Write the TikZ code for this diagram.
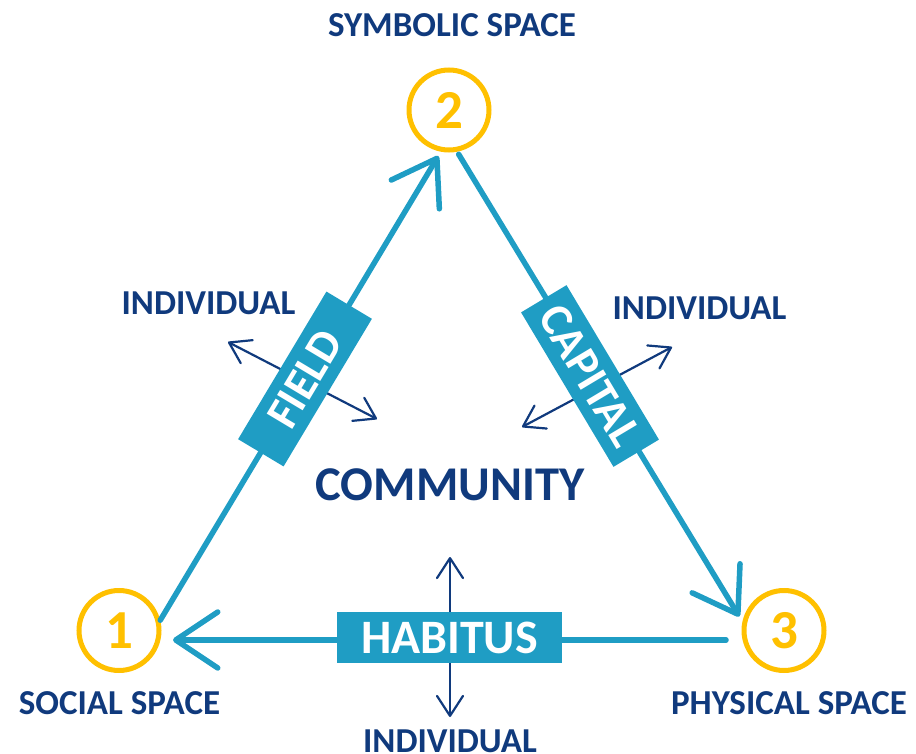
\documentclass[tikz,border=0pt]{standalone}
\usepackage{fontspec}
\setmainfont{Carlito}
\usetikzlibrary{arrows.meta}
\definecolor{lineblue}{RGB}{31,157,196}
\definecolor{navy}{RGB}{16,58,125}
\definecolor{gold}{RGB}{255,192,0}
\begin{document}
\begin{tikzpicture}[x=1pt,y=-1pt,
  spot/.style={circle, draw=gold, line width=5pt, minimum size=80pt, inner sep=0pt, text=gold, font=\bfseries\fontsize{55}{60}\selectfont},
  bigarrow/.style={draw=lineblue, line width=5.5pt, line cap=round, -{Straight Barb[length=42pt,width=56pt,round]}},
  edgetag/.style={fill=lineblue, text=white, font=\bfseries\fontsize{46}{52}\selectfont, minimum height=53pt, inner sep=0pt},
  lbl/.style={text=navy, font=\bfseries\fontsize{35}{40}\selectfont, inner sep=0pt},
  twoway/.style={draw=navy, line width=2.2pt, line cap=round, {Straight Barb[length=20pt,width=26pt,round]}-{Straight Barb[length=20pt,width=26pt,round]}}
]
\useasboundingbox (0,0) rectangle (916,754);
% stations
\node[spot] (c2) at (449,110) {2};
\node[spot] (c1) at (119,630.5) {1};
\node[spot] (c3) at (784,630.5) {3};
% main edges
\draw[bigarrow, shorten >=5pt] (c1.14) -- (c2.259);
\draw[bigarrow, shorten <=3pt, shorten >=6pt] (c2.281) -- (c3.168);
\draw[bigarrow, shorten <=15.5pt, shorten >=11.5pt] ([yshift=-9.5pt]c3.west) -- ([yshift=-9.5pt]c1.east);
% small two-way arrows
\coordinate (l1) at (228,342); \coordinate (l2) at (377,419);
\coordinate (r1) at (672,347); \coordinate (r2) at (522,427);
\coordinate (b1) at (450,557); \coordinate (b2) at (450,717);
\draw[twoway] (l1) -- (l2);
\draw[twoway] (r1) -- (r2);
\draw[twoway] (b1) -- (b2);
% edge tags
\node[edgetag, rotate=59.1, minimum width=172pt] (field) at (305,379) {FIELD};
\node[edgetag, rotate=-59.1, minimum width=180pt] (capital) at (590,376) {CAPITAL};
\node[edgetag, minimum width=225pt, minimum height=51pt, font=\bfseries\fontsize{48}{54}\selectfont] (habitus) at (449.5,637.5) {HABITUS};
% labels
\node[lbl] (symb) at (452,25.5) {SYMBOLIC SPACE};
\node[lbl] (indl) at (208.5,303) {INDIVIDUAL};
\node[lbl] (indr) at (699.5,308) {INDIVIDUAL};
\node[lbl, font=\bfseries\fontsize{48.5}{54}\selectfont] (comm) at (450,485) {COMMUNITY};
\node[lbl] (soc) at (119.5,703.5) {SOCIAL SPACE};
\node[lbl] (phys) at (789,703.5) {PHYSICAL SPACE};
\node[lbl] (indb) at (450,741) {INDIVIDUAL};
\end{tikzpicture}
\end{document}
